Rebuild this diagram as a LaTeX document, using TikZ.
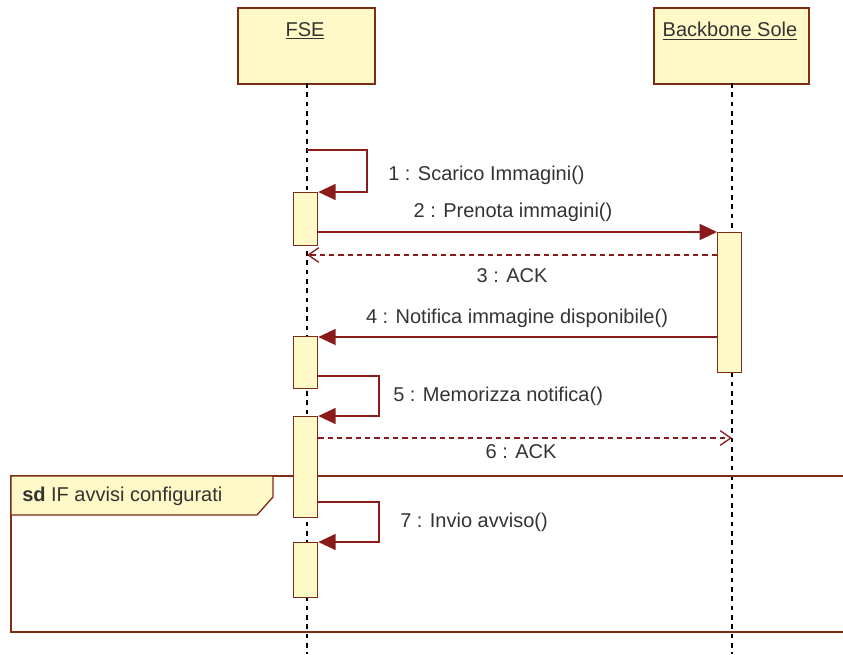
\documentclass[tikz,border=0pt]{standalone}
\usepackage{fontspec}
\setmainfont{Liberation Sans}
\usetikzlibrary{arrows.meta}
\definecolor{bord}{HTML}{7F2C16}
\definecolor{msg}{HTML}{8B1A1A}
\definecolor{boxfill}{HTML}{FFF9C8}
\definecolor{txt}{HTML}{333333}
\tikzset{
  actor/.style={draw=bord, line width=1.4pt, fill=boxfill, minimum height=76*0.75pt, inner sep=0pt},
  actbar/.style={draw=bord, line width=1pt, fill=boxfill, minimum width=24*0.75pt, inner sep=0pt},
  lifeline/.style={black, line width=1.3pt, dash pattern=on 3.5pt off 3.5pt},
  call/.style={draw=msg, line width=1.1pt, -{Triangle[length=13pt,width=12pt]}},
  reply/.style={draw=msg, line width=1pt, dash pattern=on 4pt off 3pt, -{Straight Barb[length=8pt,width=11pt]}},
  lbl/.style={text=txt, font=\fontsize{15}{18}\selectfont, inner sep=0pt},
  frameline/.style={draw=bord, line width=1pt}
}
\begin{document}
\begin{tikzpicture}[x=0.75pt,y=-0.75pt]
\useasboundingbox (0,0) rectangle (843,654);
% actors
\node[actor, anchor=north west, minimum width=137*0.75pt] (fse) at (237,7) {};
\node[actor, anchor=north west, minimum width=155*0.75pt] (bb) at (653,7) {};
\node[lbl] (fset) at (305,31) {\underline{FSE}};
\node[lbl] (bbt) at (730,31) {\underline{Backbone Sole}};
% lifeline coordinates
\coordinate (fseL) at (307,83);
\coordinate (fseEnd) at (307,654);
\coordinate (bbL) at (732,83);
\coordinate (bbEnd) at (732,654);
\draw[lifeline] (fseL) -- (fseEnd);
\draw[lifeline] (bbL) -- (bbEnd);
% frame
\coordinate (frTL) at (11,476);
\coordinate (frBL) at (11,632);
\coordinate (frTR) at (846,476);
\coordinate (frBR) at (846,632);
\draw[frameline] (frTR) -- (frTL) -- (frBL) -- (frBR);
\draw[frameline, fill=boxfill] (11,476) -- (273,476) -- (273,497) -- (257,515) -- (11,515) -- cycle;
\node[lbl, anchor=west] (sdl) at (22,496) {\textbf{sd} IF avvisi configurati};
% activation bars
\node[actbar, anchor=north west, minimum height=53*0.75pt] (a1) at (293,192) {};
\node[actbar, anchor=north west, minimum height=140*0.75pt] (b1) at (717,232) {};
\node[actbar, anchor=north west, minimum height=52*0.75pt] (a2) at (293,336) {};
\node[actbar, anchor=north west, minimum height=101*0.75pt] (a3) at (293,416) {};
\node[actbar, anchor=north west, minimum height=55*0.75pt] (a4) at (293,542) {};
% message 1
\coordinate (m1s) at (307,150);
\coordinate (m1c) at (367,150);
\draw[call] (m1s) -- (m1c) |- (a1.north east);
\node[lbl, anchor=west] (l1) at (388,175) {1 : Scarico Immagini()};
% message 2
\draw[call] (a1.east |- b1.north west) -- (b1.north west);
\node[lbl] (l2) at (513,212) {2 : Prenota immagini()};
% message 3
\coordinate (m3e) at (307,255);
\draw[reply] (b1.west |- m3e) -- (m3e);
\node[lbl] (l3) at (512,276) {3 : ACK};
% message 4
\draw[call] ([yshift=-0.75pt]b1.west |- a2.north east) -- ([yshift=-0.75pt]a2.north east);
\node[lbl] (l4) at (517,318) {4 : Notifica immagine disponibile()};
% message 5
\coordinate (m5c) at (379,376);
\draw[call] (a2.east |- m5c) -- (m5c) |- (a3.north east);
\node[lbl, anchor=west] (l5) at (393,396) {5 : Memorizza notifica()};
% message 6
\coordinate (m6e) at (732,438);
\draw[reply] (a3.east |- m6e) -- (m6e);
\node[lbl] (l6) at (521,452) {6 : ACK};
% message 7
\coordinate (m7c) at (379,502);
\draw[call] (a3.east |- m7c) -- (m7c) |- (a4.north east);
\node[lbl, anchor=west] (l7) at (400,522) {7 : Invio avviso()};
\end{tikzpicture}
\end{document}
